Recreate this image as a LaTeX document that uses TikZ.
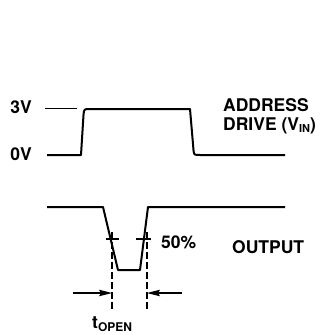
\documentclass[tikz,border=0pt]{standalone}
\usepackage{fontspec}
\setmainfont{TeX Gyre Heros}
\usetikzlibrary{arrows.meta}

\tikzset{
  wave/.style={line width=2pt, line join=round},
  lbl/.style={font=\fontsize{17.5}{19}\selectfont\bfseries, inner sep=0pt},
}

\begin{document}
\begin{tikzpicture}[x=1pt, y=-1pt, >={Stealth[length=13pt, width=6.5pt, inset=2pt]}]
        \useasboundingbox (0,0) rectangle (323,335);

        % levels
        \node[lbl] (hi) at (21,107) {3V};
        \node[lbl] (lo) at (21,154) {0V};
        \coordinate (hiA) at (45,108);
        \coordinate (hiB) at (77,108);
        \draw[line width=0.9pt] (hiA) -- (hiB);

        % address drive
        \draw[wave] (47,155) -- (81,155) -- (83.5,115) .. controls (84,109) .. (90,109)
            -- (190,109) -- (193.5,150) .. controls (194,155) .. (200,155) -- (285,155);
        \node[lbl, anchor=west, align=left] (addr) at (223,116)
            {ADDRESS\\DRIVE (V{\fontsize{11}{12}\selectfont\raisebox{-2.5pt}{IN}})};

        % output
        \draw[wave] (47,207) -- (103,207) -- (118,270) -- (140,270) -- (148,207) -- (285,207);
        \node[lbl, anchor=west] (out) at (232,247) {OUTPUT};

        % 50% marks
        \coordinate (t1a) at (106,239);
        \coordinate (t1b) at (119,239);
        \coordinate (t2a) at (136,239);
        \coordinate (t2b) at (151,239);
        \draw[line width=1.3pt] (t1a) -- (t1b);
        \draw[line width=1.3pt] (t2a) -- (t2b);
        \node[lbl, anchor=west] (half) at (161,242) {50\%};

        % t open
        \coordinate (d1a) at (112,232);
        \coordinate (d1b) at (112,310);
        \coordinate (d2a) at (147,232);
        \coordinate (d2b) at (147,310);
        \draw[line width=1.1pt, dash pattern=on 7pt off 3pt] (d1a) -- (d1b);
        \draw[line width=1.1pt, dash pattern=on 7pt off 3pt] (d2a) -- (d2b);
        \coordinate (a1) at (73,293);
        \coordinate (a2) at (182,293);
        \draw[->, line width=1.1pt] (a1) -- (d1a |- a1);
        \draw[->, line width=1.1pt] (a2) -- (d2a |- a2);
        \node[lbl, anchor=west] (topen) at (92,324)
            {t{\fontsize{12}{12}\selectfont\raisebox{-3pt}{OPEN}}};

    \end{tikzpicture}
\end{document}
